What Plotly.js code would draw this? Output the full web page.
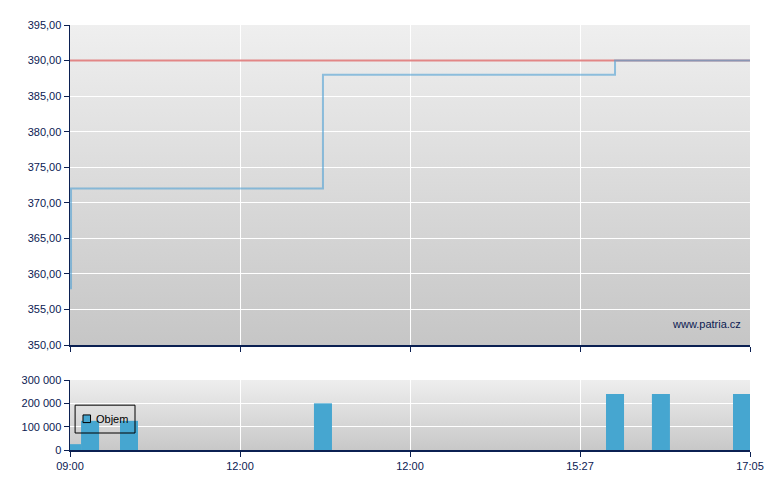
<!DOCTYPE html>
<html>
<head>
<meta charset="utf-8">
<script src="https://cdn.plot.ly/plotly-3.0.1.min.js"></script>
<style>html,body{margin:0;padding:0;background:#fff;}#chart{width:780px;height:490px;}</style>
</head>
<body>
<div id="chart"></div>
<script>
// Category-like time axis: equally spaced positions with these labels
var tickPositions = [0, 1, 2, 3, 4];
var tickLabels = ['09:00', '12:00', '12:00', '15:27', '17:05'];

// Price series (step line)
var priceX = [0, 0.006, 0.118, 0.347, 1.488, 3.206, 3.476, 3.953, 4];
var priceY = [358, 372, 372, 372, 388, 390, 390, 390, 390];

// Reference price (previous close)
var refX = [0, 4];
var refY = [390, 390];

// Volume bars
var volX = [0.012, 0.118, 0.347, 1.488, 3.206, 3.476, 3.953];
var volY = [25000, 125000, 125000, 200000, 240000, 240000, 240000];
var volName = 'Objem';

var navy = '#0b2052';
var barColor = '#46a6d0';

function gradient(top, bottom) {
  var svg = '<svg xmlns="http://www.w3.org/2000/svg" width="100" height="100" viewBox="0 0 100 100" preserveAspectRatio="none">' +
    '<defs><linearGradient id="g" x1="0" y1="0" x2="0" y2="1">' +
    '<stop offset="0" stop-color="' + top + '"/><stop offset="1" stop-color="' + bottom + '"/>' +
    '</linearGradient></defs><rect width="100" height="100" fill="url(#g)"/></svg>';
  return 'data:image/svg+xml;charset=utf-8,' + encodeURIComponent(svg);
}

var traces = [
  {x: refX, y: refY, xaxis: 'x', yaxis: 'y', type: 'scatter', mode: 'lines',
   line: {color: 'rgb(226,134,134)', width: 2}, showlegend: false, hoverinfo: 'skip'},
  {x: priceX, y: priceY, xaxis: 'x', yaxis: 'y', type: 'scatter', mode: 'lines',
   line: {color: 'rgba(78,160,212,0.6)', width: 2, shape: 'hv'}, showlegend: false},
  {x: volX, y: volY, xaxis: 'x2', yaxis: 'y2', type: 'bar', width: 0.106, name: volName,
   marker: {color: barColor, line: {width: 0}}, showlegend: false}
];

var axisCommon = {
  showline: true, linecolor: navy, linewidth: 1.5,
  ticks: 'outside', ticklen: 5, tickcolor: navy, tickwidth: 1,
  gridcolor: '#ffffff', gridwidth: 1, zeroline: false,
  tickfont: {family: 'Liberation Sans, Arial, sans-serif', size: 11, color: navy}
};

var layout = {
  width: 780, height: 490,
  margin: {l: 70, r: 30, t: 25, b: 40},
  paper_bgcolor: '#ffffff',
  plot_bgcolor: 'rgba(0,0,0,0)',
  separators: ', ',
  font: {family: 'Liberation Sans, Arial, sans-serif', size: 11, color: navy},
  showlegend: false,
  xaxis: Object.assign({}, axisCommon, {domain: [0, 1], anchor: 'y', range: [0, 4],
    tickvals: tickPositions, ticktext: tickLabels, showticklabels: false, showgrid: true}),
  yaxis: Object.assign({}, axisCommon, {domain: [0.247, 1], anchor: 'x', range: [350, 395],
    dtick: 5, tick0: 350, tickformat: ',.2f', showgrid: true}),
  xaxis2: Object.assign({}, axisCommon, {domain: [0, 1], anchor: 'y2', range: [0, 4],
    tickvals: tickPositions, ticktext: tickLabels, showgrid: true}),
  yaxis2: Object.assign({}, axisCommon, {domain: [0, 0.1647], anchor: 'x2', range: [0, 300000],
    dtick: 100000, tick0: 0, tickformat: ',d', showgrid: true}),
  images: [
    {source: gradient('#efefef', '#c6c6c6'), xref: 'x domain', yref: 'y domain',
     x: 0, y: 1, sizex: 1, sizey: 1, xanchor: 'left', yanchor: 'top', sizing: 'stretch', layer: 'below'},
    {source: gradient('#eeeeee', '#c8c8c8'), xref: 'x2 domain', yref: 'y2 domain',
     x: 0, y: 1, sizex: 1, sizey: 1, xanchor: 'left', yanchor: 'top', sizing: 'stretch', layer: 'below'}
  ],
  shapes: [
    // legend box
    {type: 'rect', xref: 'paper', yref: 'paper', x0: 0.0075, x1: 0.0956, y0: 0.040, y1: 0.1055,
     line: {color: '#000', width: 1}, fillcolor: 'rgba(0,0,0,0)', layer: 'above'},
    // legend symbol
    {type: 'rect', xref: 'paper', yref: 'paper', x0: 0.0191, x1: 0.0302, y0: 0.0645, y1: 0.0825,
     line: {color: '#000', width: 1}, fillcolor: barColor, layer: 'above'}
  ],
  annotations: [
    {text: volName, xref: 'paper', yref: 'paper', x: 0.0355, y: 0.073,
     xanchor: 'left', yanchor: 'middle', showarrow: false,
     font: {family: 'Liberation Sans, Arial, sans-serif', size: 11, color: '#000'}},
    {text: 'www.patria.cz', xref: 'paper', yref: 'paper', x: 0.99, y: 0.296,
     xanchor: 'right', yanchor: 'middle', showarrow: false,
     font: {family: 'Liberation Sans, Arial, sans-serif', size: 11, color: navy}}
  ]
};

Plotly.newPlot('chart', traces, layout, {displayModeBar: false, staticPlot: true});
</script>
</body>
</html>
